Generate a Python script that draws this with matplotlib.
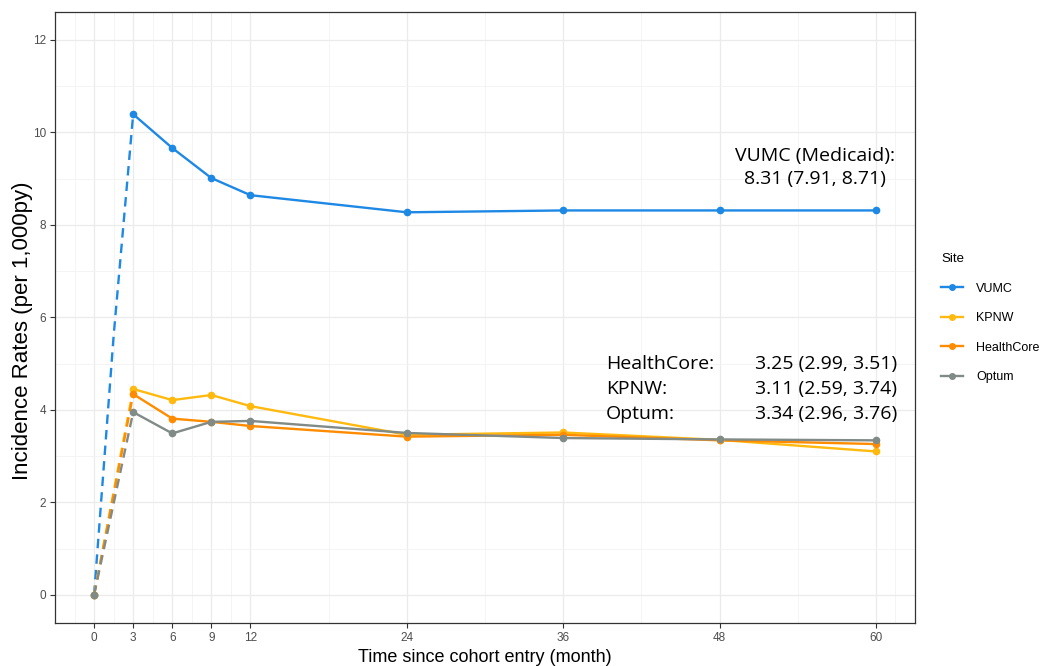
import numpy as np
import matplotlib
matplotlib.use("Agg")
import matplotlib.pyplot as plt
from matplotlib.lines import Line2D

# data
months = [0, 3, 6, 9, 12, 24, 36, 48, 60]
sites = ["VUMC", "KPNW", "HealthCore", "Optum"]
vumc = [0, 10.39, 9.66, 9.01, 8.64, 8.27, 8.31, 8.31, 8.31]
kpnw = [0, 4.45, 4.21, 4.32, 4.08, 3.46, 3.51, 3.35, 3.10]
healthcore = [0, 4.34, 3.81, 3.74, 3.65, 3.42, 3.46, 3.34, 3.26]
optum = [0, 3.95, 3.49, 3.74, 3.76, 3.50, 3.39, 3.36, 3.34]

# dashed ramp 0 -> 3 months (VUMC bends a little in the middle)
ramp_months = [0, 1.5, 3]
vumc_ramp_mid = 5.6

x_ticks = [0, 3, 6, 9, 12, 24, 36, 48, 60]
y_ticks = [0, 2, 4, 6, 8, 10, 12]

colores = {
    "VUMC": "#1E88E5",
    "KPNW": "#FFB90F",
    "HealthCore": "#FF8C00",
    "Optum": "#808A87",
}

rates = {"VUMC": vumc, "KPNW": kpnw, "HealthCore": healthcore, "Optum": optum}

left_txt = "HealthCore:\nKPNW:\nOptum:"
right_txt = "3.25 (2.99, 3.51)\n3.11 (2.59, 3.74)\n3.34 (2.96, 3.76)"
vumc_txt = "VUMC (Medicaid):\n8.31 (7.91, 8.71)"

plt.rcParams["font.family"] = ["Liberation Sans", "DejaVu Sans"]

fig = plt.figure(figsize=(10.41, 6.66), dpi=100)
ax = fig.add_axes([55 / 1041, 1 - 622.6 / 666, 860 / 1041, 610.6 / 666])

for site in sites:
    vals = rates[site]
    if site == "VUMC":
        ramp_vals = [vals[0], vumc_ramp_mid, vals[1]]
    else:
        ramp_vals = [vals[0], (vals[0] + vals[1]) / 2, vals[1]]
    ax.plot(ramp_months, ramp_vals, color=colores[site], lw=1.7,
            linestyle=(0, (4, 2.6)), zorder=3)
    ax.plot(months[1:], vals[1:], color=colores[site], lw=1.7, zorder=3)
    ax.plot(months, vals, "o", color=colores[site], ms=4.5, zorder=4)

ax.set_xticks(x_ticks)
ax.set_yticks(y_ticks)
ax.set_xticks([-1.5, 1.5, 4.5, 7.5, 10.5, 18, 30, 42, 54, 61.5], minor=True)
ax.set_yticks([1, 3, 5, 7, 9, 11], minor=True)
ax.set_xlim(-3, 63)
ax.set_ylim(-0.6, 12.6)
ax.grid(which="major", color="#EBEBEB", lw=0.9, zorder=0)
ax.grid(which="minor", color="#F2F2F2", lw=0.6, zorder=0)
ax.set_axisbelow(True)
ax.tick_params(which="minor", length=0)
ax.tick_params(which="major", length=3.5, width=0.8, color="#333333",
               labelcolor="#4D4D4D", labelsize=8.5, pad=3)
for sp in ax.spines.values():
    sp.set_color("#333333")
    sp.set_linewidth(0.9)

ax.set_xlabel("Time since cohort entry (month)", fontsize=13, labelpad=4)
ax.set_ylabel("Incidence Rates (per 1,000py)", fontsize=16)
ax.yaxis.set_label_coords(-0.026, 0.478)

ax.text(55.3, 9.24, vumc_txt, ha="center", va="center", fontsize=14,
        family="Open Sans", linespacing=1.4)
ax.text(39.3, 4.44, left_txt, ha="left", va="center", fontsize=14,
        family="Open Sans", linespacing=1.5)
ax.text(61.6, 4.44, right_txt, ha="right", va="center", fontsize=14,
        family="Open Sans", linespacing=1.5)

handles = [Line2D([0], [0], color=colores[s], lw=1.7, marker="o", ms=4)
           for s in sites]
leg = fig.legend(handles, sites, title="Site", loc="upper left",
                 bbox_to_anchor=(930 / 1041, 1 - 242 / 666), frameon=False,
                 fontsize=9, title_fontsize=9.5, labelspacing=1.4,
                 handlelength=1.7, handletextpad=1.1)
leg._legend_box.align = "left"

fig.savefig("out.png", dpi=100)
